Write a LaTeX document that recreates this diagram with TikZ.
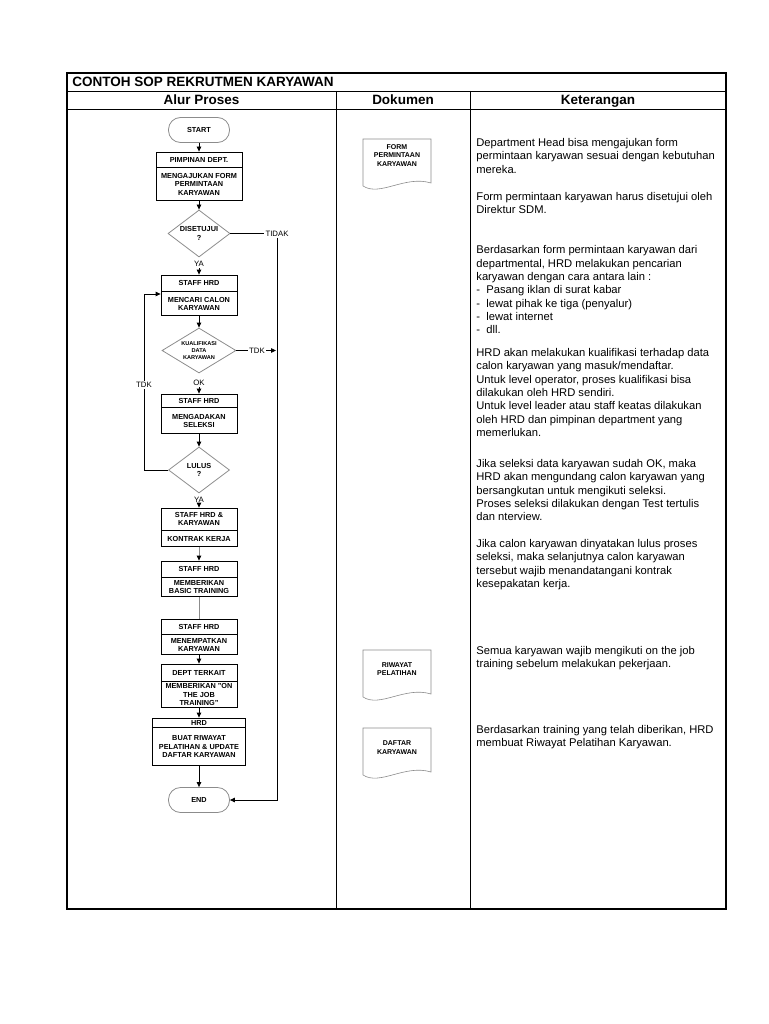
\documentclass[tikz,border=0pt]{standalone}
\usepackage{fontspec}
\setmainfont{Liberation Sans}
\usetikzlibrary{shapes.geometric,arrows.meta,positioning}

\begin{document}
\begin{tikzpicture}[x=1pt, y=-1pt, node distance=0pt,
	>={Triangle[length=5pt,width=4.5pt,color=black]},
	every path/.style={line width=0.8pt},
	kotak/.style={draw=black, rectangle, minimum width=76pt, inner sep=0pt, align=center, font=\fontsize{7.3}{8.4}\selectfont\bfseries},
	terminal/.style={draw=black!45, rectangle, rounded corners=12pt, minimum width=61pt, minimum height=25pt, inner sep=0pt, font=\fontsize{7.3}{8.4}\selectfont\bfseries},
	keputusan/.style={draw=black!45, diamond, inner sep=0pt, align=center, font=\fontsize{7.3}{8.6}\selectfont\bfseries},
	lbl/.style={inner sep=1pt, font=\fontsize{7.8}{9}\selectfont},
	abu/.style={draw=black!45},
	dok/.style={draw=black!45, line width=0.6pt},
	doktext/.style={inner sep=0pt, align=center, font=\fontsize{7}{8.2}\selectfont\bfseries},
	kepala/.style={anchor=base, inner sep=0pt, font=\fontsize{13.5}{15}\selectfont\bfseries},
	ket/.style={anchor=north west, inner sep=0pt, align=left, font=\fontsize{11.2}{13.35}\selectfont}]
			\useasboundingbox (0,0) rectangle (768,1024);
			
			% tabel
			\draw[line width=1.8pt] (67,73) rectangle (726,909);
			\draw (67,91) -- (726,91);
			\draw (67,109) -- (726,109);
			\draw (336,91) -- (336,909);
			\draw (470,91) -- (470,909);
			\node[kepala, anchor=base west] (judul) at (72,87) {CONTOH SOP REKRUTMEN KARYAWAN};
			\node[kepala] (h1) at (201.5,105) {Alur Proses};
			\node[kepala] (h2) at (403,105) {Dokumen};
			\node[kepala] (h3) at (598,105) {Keterangan};
			
			% alur proses
			\node[terminal] (start) at (199,130) {START};
			\node[kotak, minimum width=86pt, minimum height=15pt] (pimpA) at (199,159.5) {PIMPINAN DEPT.};
			\node[kotak, minimum width=86pt, minimum height=33pt, below=of pimpA] (pimpB) {MENGAJUKAN FORM\\PERMINTAAN\\KARYAWAN};
			\node[keputusan, minimum width=62pt, minimum height=47pt, shape aspect=1.3] (setuju) at (199,233.5) {DISETUJUI\\?};
			\node[lbl] (tidak) at (277,233.5) {TIDAK};
			\node[lbl] (ya1) at (199,264) {YA};
			
			\node[kotak, minimum height=16pt] (cariA) at (199,283) {STAFF HRD};
			\node[kotak, minimum height=24pt, below=of cariA] (cariB) {MENCARI CALON\\KARYAWAN};
			\node[keputusan, minimum width=74pt, minimum height=45pt, shape aspect=1.6, font=\fontsize{5.6}{7}\selectfont\bfseries] (kualif) at (199,350.5) {KUALIFIKASI\\DATA\\KARYAWAN};
			\node[lbl] (tdk1) at (257,350.5) {TDK};
			\coordinate (tdkujung) at (276,350.5);
			\node[lbl] (ok) at (199,383) {OK};
			
			\node[kotak, minimum height=13pt] (seleksiA) at (199,400.5) {STAFF HRD};
			\node[kotak, minimum height=26pt, below=of seleksiA] (seleksiB) {MENGADAKAN\\SELEKSI};
			\node[keputusan, minimum width=61pt, minimum height=46pt, shape aspect=1.3] (lulus) at (199,470) {LULUS\\?};
			\coordinate (balik) at (144,294);
			\node[lbl] (ya2) at (199,500) {YA};
			
			\node[kotak, minimum height=22pt] (kontrakA) at (199,519) {STAFF HRD \&\\KARYAWAN};
			\node[kotak, minimum height=16pt, below=of kontrakA] (kontrakB) {KONTRAK KERJA};
			\node[kotak, minimum height=16pt] (basicA) at (199,569) {STAFF HRD};
			\node[kotak, minimum height=19pt, below=of basicA] (basicB) {MEMBERIKAN\\BASIC TRAINING};
			\node[kotak, minimum height=15pt] (tempatA) at (199,626.5) {STAFF HRD};
			\node[kotak, minimum height=20pt, below=of tempatA] (tempatB) {MENEMPATKAN\\KARYAWAN};
			\node[kotak, minimum height=17pt] (ojtA) at (199,672.5) {DEPT TERKAIT};
			\node[kotak, minimum height=26pt, below=of ojtA] (ojtB) {MEMBERIKAN "ON\\THE JOB\\TRAINING"};
			\node[kotak, minimum width=93pt, minimum height=9pt] (hrdA) at (199,722.5) {HRD};
			\node[kotak, minimum width=93pt, minimum height=38pt, below=of hrdA] (hrdB) {BUAT RIWAYAT\\PELATIHAN \& UPDATE\\DAFTAR KARYAWAN};
			\node[terminal] (end) at (199,800) {END};
			
			\draw[->] (start) -- (pimpA);
			\draw[->] (pimpB) -- (setuju);
			\draw (setuju.east) -- (tidak.west);
			\draw[->] (tidak.south) |- (end.east);
			\draw[->] (ya1.south) -- (cariA.north);
			\draw[->] (cariB) -- (kualif);
			\draw (kualif.east) -- (tdk1.west);
			\draw[->] (tdk1.east) -- (tdkujung);
			\draw[->] (ok.south) -- (seleksiA.north);
			\draw[->] (seleksiB) -- (lulus);
			\draw[->] (lulus.west) -| (balik) -- (balik -| cariB.west);
			\node[lbl, fill=white] (tdk2) at (144,385) {TDK};
			\draw[->] (ya2.south) -- (kontrakA.north);
			\draw[->, abu] (kontrakB) -- (basicA);
			\draw[abu] (basicB) -- (tempatA);
			\draw[->] (tempatB) -- (ojtA);
			\draw[->] (ojtB) -- (hrdA);
			\draw[->] (hrdB) -- (end);
			
			% dokumen
			\draw[dok] (363,139) -- (431,139) -- (431,183) .. controls (405,175) and (380,197) .. (363,186) -- cycle;
			\node[doktext] (form) at (397,155.5) {FORM\\PERMINTAAN\\KARYAWAN};
			\draw[dok] (363,650) -- (431,650) -- (431,694) .. controls (405,686) and (380,708) .. (363,697) -- cycle;
			\node[doktext] (riwayat) at (397,669) {RIWAYAT\\PELATIHAN};
			\draw[dok] (363,728) -- (431,728) -- (431,772) .. controls (405,764) and (380,786) .. (363,775) -- cycle;
			\node[doktext] (daftar) at (397,747.5) {DAFTAR\\KARYAWAN};
			
			% keterangan
			\node[ket] (k1) at (476,137.8) {Department Head bisa mengajukan form\\permintaan karyawan sesuai dengan kebutuhan\\mereka.};
			\node[ket] (k2) at (476,191.8) {Form permintaan karyawan harus disetujui oleh\\Direktur SDM.};
			\node[ket] (k3) at (476,245.3) {Berdasarkan form permintaan karyawan dari\\departmental, HRD melakukan pencarian\\karyawan dengan cara antara lain :\\- \ Pasang iklan di surat kabar\\- \ lewat pihak ke tiga (penyalur)\\- \ lewat internet\\- \ dll.};
			\node[ket] (k4) at (476,347.8) {HRD akan melakukan kualifikasi terhadap data\\calon karyawan yang masuk/mendaftar.\\Untuk level operator, proses kualifikasi bisa\\dilakukan oleh HRD sendiri.\\Untuk level leader atau staff keatas dilakukan\\oleh HRD dan pimpinan department yang\\memerlukan.};
			\node[ket] (k5) at (476,458.8) {Jika seleksi data karyawan sudah OK, maka\\HRD akan mengundang calon karyawan yang\\bersangkutan untuk mengikuti seleksi.\\Proses seleksi dilakukan dengan Test tertulis\\dan nterview.};
			\node[ket] (k6) at (476,538.8) {Jika calon karyawan dinyatakan lulus proses\\seleksi, maka selanjutnya calon karyawan\\tersebut wajib menandatangani kontrak\\kesepakatan kerja.};
			\node[ket] (k7) at (476,645.8) {Semua karyawan wajib mengikuti on the job\\training sebelum melakukan pekerjaan.};
			\node[ket] (k8) at (476,724.8) {Berdasarkan training yang telah diberikan, HRD\\membuat Riwayat Pelatihan Karyawan.};
			\end{tikzpicture}
\end{document}
